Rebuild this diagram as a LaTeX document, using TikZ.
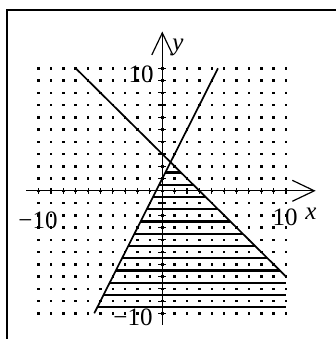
\documentclass[tikz,border=0pt]{standalone}
\usepackage{fontspec}
\setmainfont{Liberation Serif}
\usetikzlibrary{arrows.meta}
\tikzset{
  dotsq/.style={rectangle,fill=black,inner sep=0pt,minimum size=2.5pt},
  axisline/.style={line width=1.3pt,-{Straight Barb[length=22pt,width=21pt,line width=1.2pt]}},
  tickline/.style={line width=1.1pt},
  boundline/.style={line width=1.7pt},
  hatchline/.style={line width=2.3pt},
  framebox/.style={line width=2pt},
  lbl/.style={inner sep=0pt,font=\fontsize{25}{25}\selectfont}
}
\begin{document}
\begin{tikzpicture}[x=12.37pt,y=12.25pt]
\useasboundingbox (-162.3pt,-148.2pt) rectangle (172.7pt,190.8pt);
% frame
\draw[framebox] (-155.3pt,-160pt) -- (-155.3pt,180.8pt) -- (180pt,180.8pt);
% dot grid
\foreach \i in {-10,...,10}{
  \foreach \j in {-10,...,10}{
    \node[dotsq] at (\i,\j) {};
  }
}
% hatching
\foreach \k in {0,...,11}{
  \pgfmathsetmacro{\yy}{1.5-\k}
  \pgfmathsetmacro{\xl}{(\yy-1)/2}
  \pgfmathsetmacro{\xr}{min(3-\yy,10)}
  \draw[hatchline] (\xl,\yy) -- (\xr,\yy);
}
% boundary lines
\coordinate (a1) at (-7,10);
\coordinate (a2) at (10,-7);
\coordinate (b1) at (4.5,10);
\coordinate (b2) at (-5.5,-10);
\draw[boundline] (a1) -- (a2);
\draw[boundline] (b1) -- (b2);
% axes
\coordinate (xs) at (-11,0);
\coordinate (xe) at (12.4,0);
\coordinate (ys) at (0,-10.95);
\coordinate (ye) at (0,13.0);
\draw[axisline] (xs) -- (xe);
\draw[axisline] (ys) -- (ye);
% ticks
\foreach \i in {-10,...,-1,1,2,...,10}{
  \draw[tickline] (\i,0) ++(0,-3pt) -- ++(0,6pt);
  \draw[tickline] (0,\i) ++(-4pt,0) -- ++(8pt,0);
}
% labels
\node[lbl] (ytop) at (-21.3pt,116.8pt) {10};
\node[lbl] (ylab) at (15.7pt,143.8pt) {\textit{y}};
\node[lbl] (xleft) at (-124.3pt,-29.2pt) {−10};
\node[lbl] (xright) at (122.7pt,-26.2pt) {10};
\node[lbl] (xlab) at (148.7pt,-23.2pt) {\textit{x}};
\node[lbl] (ybot) at (-29.3pt,-126.2pt) {−10};
\end{tikzpicture}
\end{document}
